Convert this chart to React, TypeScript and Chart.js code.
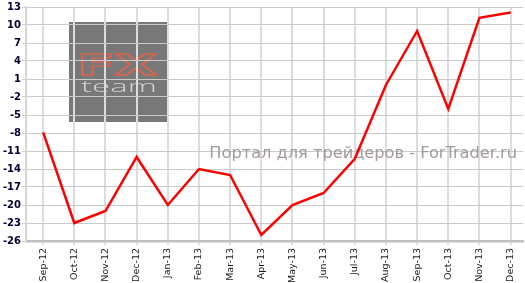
import React, { useEffect, useRef } from 'react';
import { Chart, registerables } from 'chart.js';

Chart.register(...registerables);

const months = ['Sep-12', 'Oct-12', 'Nov-12', 'Dec-12', 'Jan-13', 'Feb-13', 'Mar-13', 'Apr-13', 'May-13', 'Jun-13', 'Jul-13', 'Aug-13', 'Sep-13', 'Oct-13', 'Nov-13', 'Dec-13'];
const values = [-7.9, -23, -21, -12, -20, -14, -15, -25, -20, -18, -12.3, 0, 9, -4, 11.2, 12.1];
const yTicks = [13, 10, 7, 4, 1, -2, -5, -8, -11, -14, -17, -20, -23, -26];
const watermark = 'Портал для трейдеров - ForTrader.ru';
const logoTop = 'FX';
const logoBottom = 'team';

function fitText(ctx: CanvasRenderingContext2D, text: string, font: string, x0: number, y0: number, x1: number, y1: number, mode: 'fill' | 'stroke', lw: number) {
  ctx.save();
  ctx.font = font;
  ctx.textAlign = 'left';
  ctx.textBaseline = 'alphabetic';
  const m = ctx.measureText(text);
  const w = m.actualBoundingBoxLeft + m.actualBoundingBoxRight;
  const h = m.actualBoundingBoxAscent;
  const sx = (x1 - x0) / w;
  const sy = (y1 - y0) / h;
  ctx.translate(x0, y1);
  ctx.scale(sx, sy);
  if (mode === 'fill') {
    ctx.fillText(text, m.actualBoundingBoxLeft, 0);
  } else {
    ctx.lineWidth = lw / Math.sqrt(sx * sy);
    ctx.strokeText(text, m.actualBoundingBoxLeft, 0);
  }
  ctx.restore();
}

const decor = {
  id: 'decor',
  beforeDraw(chart: any) {
    const ctx: CanvasRenderingContext2D = chart.ctx;
    ctx.save();
    ctx.fillStyle = '#787878';
    ctx.fillRect(69, 22, 99, 100);
    ctx.strokeStyle = '#d8644f';
    fitText(ctx, logoTop, 'bold 30px "DejaVu Sans"', 81, 54, 157, 75, 'stroke', 1.9);
    ctx.fillStyle = '#d2d2d2';
    fitText(ctx, logoBottom, '300 14px "Open Sans"', 81, 80, 156, 92, 'fill', 1);
    ctx.restore();
  },
  beforeDatasetsDraw(chart: any) {
    const ctx: CanvasRenderingContext2D = chart.ctx;
    ctx.save();
    let size = 17;
    ctx.font = `${size}px "DejaVu Sans"`;
    const w = ctx.measureText(watermark).width;
    size = size * 308 / w;
    ctx.font = `${size}px "DejaVu Sans"`;
    ctx.fillStyle = '#a39a9a';
    ctx.textAlign = 'right';
    ctx.textBaseline = 'alphabetic';
    ctx.fillText(watermark, 517, 158);
    ctx.restore();
  },
};

export default function App() {
  const ref = useRef<HTMLCanvasElement>(null);
  useEffect(() => {
    document.body.style.margin = '0';
    const chart = new Chart(ref.current!, {
      type: 'line',
      data: {
        datasets: [
          {
            data: values.map((v, i) => ({ x: i, y: v })),
            borderColor: '#ff0000',
            borderWidth: 2.5,
            pointRadius: 0,
            tension: 0,
            fill: false,
          },
        ],
      },
      options: {
        animation: false,
        responsive: false,
        layout: { padding: { top: 3.5, left: 0, right: 0, bottom: 0 } },
        plugins: { legend: { display: false }, tooltip: { enabled: false } },
        scales: {
          x: {
            type: 'linear',
            min: -0.55,
            max: 15.41,
            afterBuildTicks: (axis: any) => {
              axis.ticks = months.map((_, i) => ({ value: i }));
            },
            afterFit: (axis: any) => {
              axis.height = 42;
            },
            grid: { color: '#dddddd', lineWidth: 2, tickLength: 4, drawTicks: true },
            border: { color: '#c0c0c0', width: 2.5 },
            ticks: {
              autoSkip: false,
              minRotation: 90,
              maxRotation: 90,
              padding: 3,
              color: '#1a1a1a',
              font: { family: '"DejaVu Sans"', size: 9.5 },
              callback: (v: any) => months[v] ?? '',
            },
          },
          y: {
            min: -26,
            max: 13,
            afterBuildTicks: (axis: any) => {
              axis.ticks = yTicks.map((v) => ({ value: v }));
            },
            afterFit: (axis: any) => {
              axis.width = 26;
            },
            grid: { color: '#cbcbcb', lineWidth: 1, tickLength: 4, drawTicks: true },
            border: { color: '#d6d6d6', width: 2 },
            ticks: {
              padding: 1,
              color: '#000033',
              font: { family: '"DejaVu Sans"', size: 10, weight: 'bold' },
            },
          },
        },
      },
      plugins: [decor],
    } as any);
    return () => chart.destroy();
  }, []);
  return (
    <div style={{ position: 'fixed', left: 0, top: 0, width: 525, height: 283 }}>
      <canvas ref={ref} width={525} height={283} />
    </div>
  );
}
